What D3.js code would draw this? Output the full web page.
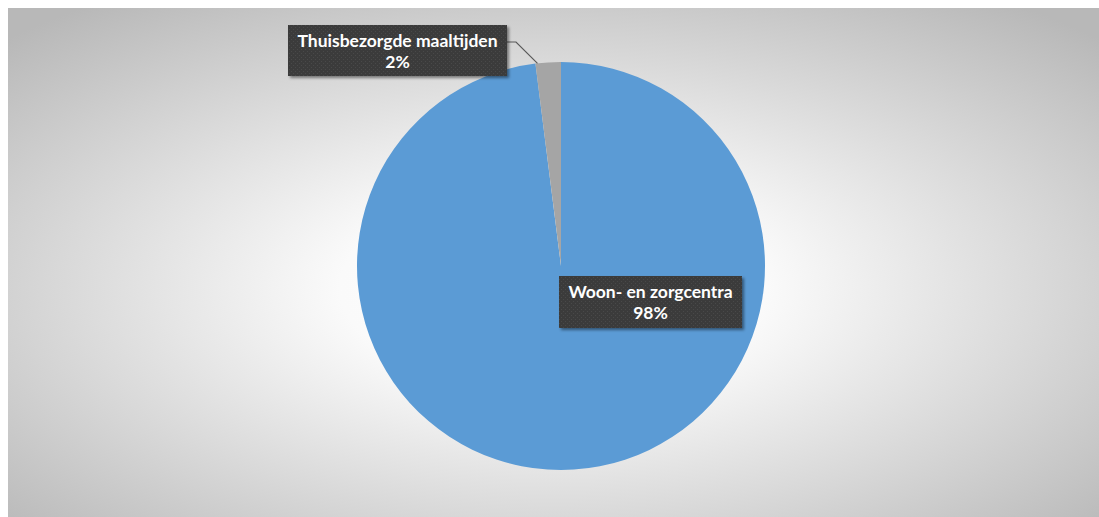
<!DOCTYPE html>
<html>
<head>
<meta charset="utf-8">
<script src="https://cdn.jsdelivr.net/npm/d3@7"></script>
<style>
  body { margin: 0; background: #fff; }
  svg { display: block; }
</style>
</head>
<body>
<svg id="chart" width="1099" height="517"></svg>
<script>
// data
const categories = ["Woon- en zorgcentra", "Thuisbezorgde maaltijden"]
const values = [98, 2]
const pctLabels = ["98%", "2%"]
const colors = ["#5B9BD5", "#A5A5A5"]

const W = 1099, H = 517
const svg = d3.select("#chart")
const defs = svg.append("defs")

// radial background, white in the middle, grey at the edges
const bg = defs.append("radialGradient")
  .attr("id", "bg-grad")
  .attr("cx", "50%").attr("cy", "55%").attr("r", "70%")
bg.selectAll("stop")
  .data([
    {offset: "0%", color: "#ffffff"},
    {offset: "28%", color: "#fafafa"},
    {offset: "100%", color: "#b8b8b8"}
  ])
  .enter().append("stop")
  .attr("offset", d => d.offset)
  .attr("stop-color", d => d.color)

// dotted pattern for the label boxes
const pat = defs.append("pattern")
  .attr("id", "dots")
  .attr("width", 4).attr("height", 4)
  .attr("patternUnits", "userSpaceOnUse")
pat.append("rect").attr("width", 4).attr("height", 4).attr("fill", "#3b3b3b")
pat.append("rect").attr("x", 1).attr("y", 1).attr("width", 1).attr("height", 1).attr("fill", "#4a4a4a")
pat.append("rect").attr("x", 3).attr("y", 3).attr("width", 1).attr("height", 1).attr("fill", "#4a4a4a")

const shadow = defs.append("filter").attr("id", "shadow")
  .attr("x", "-10%").attr("y", "-20%").attr("width", "130%").attr("height", "160%")
shadow.append("feDropShadow")
  .attr("dx", 2).attr("dy", 2).attr("stdDeviation", 1.5)
  .attr("flood-color", "#000").attr("flood-opacity", 0.45)

svg.append("rect")
  .attr("x", 8).attr("y", 8)
  .attr("width", W - 8).attr("height", H - 8)
  .attr("fill", "url(#bg-grad)")

const cx = 561, cy = 266, radius = 204

const pie = d3.pie().sort(null).value(d => d)
const arc = d3.arc().innerRadius(0).outerRadius(radius)
const arcs = pie(values)

const g = svg.append("g").attr("transform", `translate(${cx},${cy})`)
g.selectAll("path")
  .data(arcs)
  .enter().append("path")
  .attr("d", arc)
  .attr("fill", (d, i) => colors[i])

// label boxes: [box x, box y, box w, box h]
const boxes = [
  {x: 559, y: 276, w: 183, h: 52},
  {x: 288, y: 25, w: 219, h: 51}
]

// leader line for the small slice, ends near its left edge
const small = arcs[1]
const tipA = small.startAngle + (small.endAngle - small.startAngle) * 0.08
const edge = [cx + Math.sin(tipA) * radius, cy - Math.cos(tipA) * radius]
const b1 = boxes[1]
svg.append("polyline")
  .attr("points", [
    [b1.x + b1.w, b1.y + 17],
    [b1.x + b1.w + 9, b1.y + 17],
    edge
  ].map(p => p.join(",")).join(" "))
  .attr("fill", "none")
  .attr("stroke", "#595959")
  .attr("stroke-width", 1.2)

const labels = svg.selectAll("g.label")
  .data(arcs)
  .enter().append("g")
  .attr("class", "label")

labels.append("rect")
  .attr("x", (d, i) => boxes[i].x)
  .attr("y", (d, i) => boxes[i].y)
  .attr("width", (d, i) => boxes[i].w)
  .attr("height", (d, i) => boxes[i].h)
  .attr("fill", "url(#dots)")
  .attr("filter", "url(#shadow)")

const txt = labels.append("text")
  .attr("text-anchor", "middle")
  .attr("font-family", "Lato, 'Open Sans', sans-serif")
  .attr("font-weight", "bold")
  .attr("font-size", 17.5)
  .attr("fill", "#ffffff")

txt.append("tspan")
  .attr("x", (d, i) => boxes[i].x + boxes[i].w / 2)
  .attr("y", (d, i) => boxes[i].y + 22)
  .text((d, i) => categories[i])
txt.append("tspan")
  .attr("x", (d, i) => boxes[i].x + boxes[i].w / 2)
  .attr("y", (d, i) => boxes[i].y + 43)
  .text((d, i) => pctLabels[i])
</script>
</body>
</html>
